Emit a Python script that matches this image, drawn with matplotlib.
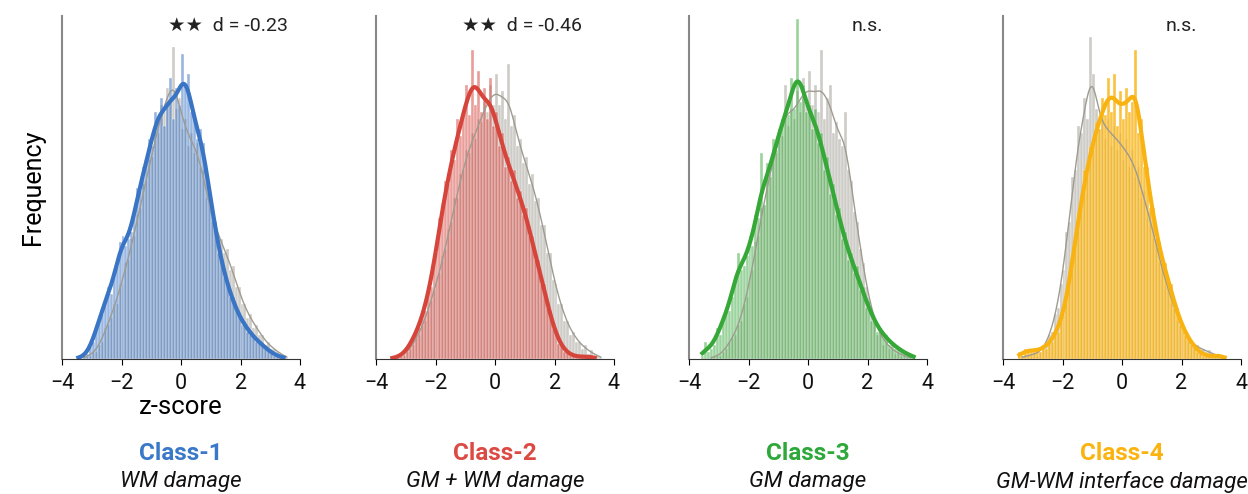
import numpy as np
import matplotlib.pyplot as plt
import seaborn as sns

plt.rcParams['font.family'] = ['Roboto', 'DejaVu Sans']

# histogram bins of width 0.1 between -3.6 and 3.6
edges = np.round(np.arange(-3.6, 3.65, 0.1), 2)
centers = (edges[:-1] + edges[1:]) / 2

# bar heights (in % of the axis height)
class1 = [0, 0.5, 0.3, 0.8, 1.5, 3.5, 5, 9, 12, 13,
          17, 21, 19, 24, 27, 34, 36, 33, 35, 37,
          44, 50, 49, 56, 57, 64, 62, 72, 70, 76,
          68, 74, 82, 70, 79, 74, 89, 80, 83, 72,
          70, 64, 67, 63, 54, 50, 42, 40, 31, 30,
          24, 23, 18, 18, 14, 13, 10, 11, 8, 7,
          7, 5, 5, 4, 3, 2.5, 2, 1, 1, 0.5,
          0.5, 0]
ctrl1 = [0, 0, 0, 0.5, 0.5, 1, 2, 2, 4, 5,
         9, 10, 12, 16, 16, 22, 22, 28, 29, 35,
         36, 42, 44, 51, 52, 58, 59, 67, 66, 74,
         72, 79, 75, 91, 73, 76, 67, 70, 62, 66,
         60, 63, 56, 55, 47, 46, 40, 40, 35, 35,
         31, 32, 26, 27, 21, 21, 16, 16, 12, 13,
         9, 10, 7, 7, 4, 5, 3, 3, 2, 1.5,
         1, 0.5]

class2 = [0, 0.5, 0, 1, 1, 1.5, 3, 4, 6, 8,
          9, 13, 14, 20, 21, 30, 31, 41, 43, 52,
          51, 61, 58, 70, 65, 72, 80, 71, 90, 74,
          84, 72, 79, 70, 82, 68, 72, 62, 66, 56,
          59, 52, 55, 47, 49, 42, 44, 36, 36, 29,
          29, 22, 22, 15, 14, 9, 8, 4.5, 4, 2,
          2, 1, 1, 0.5, 1, 0.5, 0.5, 1, 0.5, 0.5,
          0, 0]
ctrl2 = [0, 0, 0.5, 0.5, 1, 1, 2, 3, 4, 6,
         7, 10, 11, 14, 17, 20, 23, 25, 30, 32,
         38, 40, 47, 47, 54, 55, 61, 60, 66, 64,
         70, 69, 75, 72, 80, 74, 83, 74, 78, 70,
         86, 68, 71, 62, 64, 57, 59, 51, 54, 46,
         47, 39, 39, 31, 31, 23, 22, 16, 16, 11,
         11, 7, 8, 5, 5, 3, 4, 1.5, 2.5, 1,
         1, 0.5]

class3 = [1, 5, 2, 3, 4, 9, 7, 12, 15, 14,
          18, 24, 31, 26, 27, 30, 36, 33, 42, 41,
          60, 45, 57, 53, 64, 61, 67, 70, 72, 71,
          82, 73, 99, 75, 80, 72, 74, 67, 73, 63,
          66, 55, 59, 48, 51, 42, 44, 35, 37, 29,
          31, 25, 27, 20, 21, 15, 17, 11, 12, 8,
          9, 6, 7, 4, 5, 3, 3.5, 2, 2, 1,
          1.5, 0.5]
ctrl3 = [0, 0, 0, 0.5, 0.5, 1, 1, 2, 3, 5,
         6, 7, 10, 11, 16, 18, 24, 26, 34, 36,
         44, 45, 53, 54, 60, 60, 66, 65, 80, 68,
         73, 70, 78, 72, 82, 74, 84, 74, 80, 72,
         90, 70, 76, 80, 66, 69, 64, 62, 72, 55,
         52, 43, 40, 32, 28, 21, 18, 13, 12, 7,
         8, 4, 5, 3, 3, 1.5, 2, 1, 1, 0.5,
         0.5, 0]

class4 = [0, 2, 1, 3, 2, 3, 2, 3, 2, 4,
          3, 5, 5, 8, 8, 12, 13, 19, 22, 31,
          35, 43, 45, 55, 54, 62, 63, 69, 67, 76,
          71, 82, 72, 83, 68, 78, 70, 79, 72, 75,
          90, 66, 70, 56, 56, 44, 44, 35, 34, 27,
          28, 21, 22, 15, 15, 10, 10, 7, 6, 4,
          4, 2, 2, 1, 1, 1, 0.5, 1, 1.5, 0.5,
          0.5, 0]
ctrl4 = [0, 0, 1, 0.5, 1, 1, 2, 1, 2, 3,
         4, 7, 8, 13, 15, 22, 26, 37, 40, 53,
         55, 68, 66, 76, 70, 94, 83, 73, 67, 72,
         64, 70, 62, 68, 61, 66, 58, 64, 56, 61,
         53, 56, 47, 49, 41, 43, 35, 35, 28, 28,
         21, 22, 16, 17, 11, 12, 8, 8, 5, 5,
         3.5, 4, 2.5, 3, 2, 2.5, 1, 1.5, 0.5, 1,
         0.5, 0]

class_counts = [class1, class2, class3, class4]
ctrl_counts = [ctrl1, ctrl2, ctrl3, ctrl4]
class_names = ['Class-1', 'Class-2', 'Class-3', 'Class-4']
subtitles = ['WM damage', 'GM + WM damage', 'GM damage', 'GM-WM interface damage']
stats = ['★★  d = -0.23', '★★  d = -0.46', 'n.s.', 'n.s.']
stat_x = [1.58, 0.9, 2.0, 2.0]
colors = ['#3a74c4', '#d6453c', '#36a838', '#f8b312']
alphas = [0.52, 0.52, 0.5, 0.8]
title_colors = ['#3a78c8', '#dc4a44', '#2ea83a', '#fbb40f']
gray = '#9f9b91'


def hist_kde(ax, counts, color, alpha, lw):
    w = np.array(counts, dtype=float)
    keep = w > 0
    sns.histplot(x=centers[keep], weights=w[keep], bins=list(edges), kde=True,
                 color=color, alpha=alpha, edgecolor='white', linewidth=0.25,
                 kde_kws={'bw_adjust': 0.3}, line_kws={'lw': lw}, ax=ax)


fig = plt.figure(figsize=(12.48, 4.94), dpi=100)
lefts = [62, 376, 689, 1003]

for i in range(4):
    ax = fig.add_axes([lefts[i] / 1248, 135 / 494, 238 / 1248, 343 / 494])
    hist_kde(ax, ctrl_counts[i], gray, 0.5, 1.0)
    hist_kde(ax, class_counts[i], colors[i], alphas[i], 3.0)

    ax.set_xlim(-4, 4)
    ax.set_ylim(0, 100)
    ax.set_xticks([-4, -2, 0, 2, 4])
    ax.set_yticks([])
    ax.tick_params(axis='x', labelsize=15.5, length=4, width=0.8, pad=6,
                   labelcolor='#111111')
    for s in ['top', 'right']:
        ax.spines[s].set_visible(False)
    ax.spines['left'].set_color('#888888')
    ax.spines['left'].set_linewidth(1.5)
    ax.spines['bottom'].set_color('#333333')
    ax.spines['bottom'].set_linewidth(0.8)
    ax.set_ylabel('')
    ax.set_xlabel('')
    if i == 0:
        ax.set_ylabel('Frequency', fontsize=18, labelpad=12)
        ax.set_xlabel('z-score', fontsize=18.5, labelpad=1)

    ax.text(stat_x[i], 97, stats[i], ha='center', va='center', fontsize=14,
            color='#222222')

    cx = (lefts[i] + 119) / 1248
    fig.text(cx, 0.081, class_names[i], ha='center', va='center',
             fontsize=17.5, fontweight='bold', color=title_colors[i])
    fig.text(cx, 0.025, subtitles[i], ha='center', va='center',
             fontsize=16, style='italic', color='#111111')

plt.savefig('out.png', dpi=100)
